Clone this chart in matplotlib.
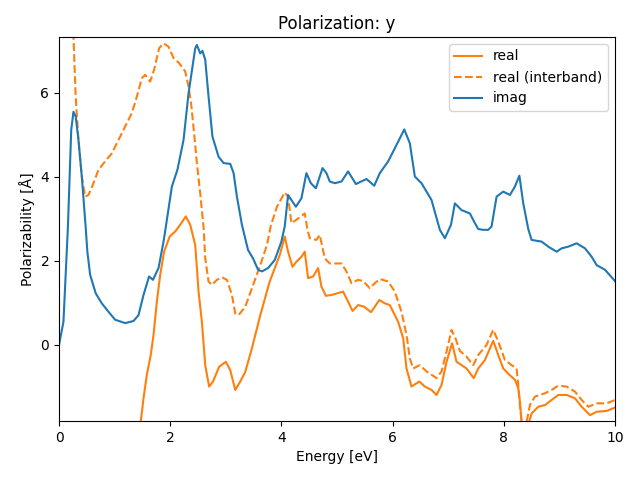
import numpy as np
import matplotlib
matplotlib.use("Agg")
import matplotlib.pyplot as plt

# imag part
e_imag = [0.0, 0.08, 0.16, 0.22, 0.26, 0.30, 0.35, 0.41, 0.48, 0.51, 0.56, 0.66, 0.77, 0.89,
          1.01, 1.19, 1.34, 1.43, 1.52, 1.62, 1.69, 1.79, 1.88, 1.92, 2.03, 2.13, 2.24, 2.33,
          2.45, 2.48, 2.54, 2.58, 2.63, 2.69, 2.76, 2.87, 2.96, 3.08, 3.14, 3.20, 3.29, 3.40,
          3.49, 3.58, 3.65, 3.76, 3.88, 4.00, 4.06, 4.12, 4.18, 4.26, 4.36, 4.45, 4.53, 4.62,
          4.74, 4.81, 4.87, 4.96, 5.08, 5.20, 5.34, 5.53, 5.67, 5.77, 5.92, 6.07, 6.21, 6.31,
          6.40, 6.52, 6.70, 6.85, 6.94, 7.05, 7.12, 7.24, 7.39, 7.48, 7.54, 7.63, 7.72, 7.78,
          7.87, 7.99, 8.11, 8.20, 8.28, 8.35, 8.44, 8.50, 8.68, 8.80, 8.95, 9.04, 9.16, 9.31,
          9.46, 9.58, 9.67, 9.82, 10.0]
imag = [0.0, 0.55, 2.80, 5.12, 5.55, 5.44, 4.88, 4.01, 2.80, 2.22, 1.67, 1.23, 0.99, 0.79,
        0.60, 0.52, 0.57, 0.71, 1.19, 1.63, 1.55, 1.83, 2.46, 2.80, 3.77, 4.17, 4.88, 5.99,
        7.06, 7.14, 6.94, 7.00, 6.79, 5.91, 4.96, 4.48, 4.33, 4.31, 4.09, 3.53, 2.86, 2.26,
        2.06, 1.79, 1.75, 1.83, 2.02, 2.46, 2.82, 3.57, 3.45, 3.29, 3.49, 4.09, 3.85, 3.73,
        4.21, 4.09, 3.89, 3.85, 3.89, 4.13, 3.83, 3.95, 3.79, 4.09, 4.37, 4.76, 5.13, 4.80,
        4.01, 3.85, 3.45, 2.74, 2.54, 2.86, 3.37, 3.21, 3.13, 2.90, 2.76, 2.74, 2.74, 2.82,
        3.53, 3.65, 3.57, 3.77, 4.03, 3.37, 2.76, 2.50, 2.46, 2.34, 2.22, 2.30, 2.34, 2.42,
        2.30, 2.10, 1.90, 1.79, 1.52]

# real part (total)
e_real = [1.30, 1.47, 1.52, 1.58, 1.65, 1.70, 1.76, 1.82, 1.89, 1.99, 2.09, 2.19, 2.28, 2.36,
          2.45, 2.51, 2.57, 2.63, 2.70, 2.77, 2.88, 3.00, 3.08, 3.17, 3.26, 3.35, 3.47, 3.62,
          3.79, 3.97, 4.06, 4.12, 4.20, 4.27, 4.36, 4.42, 4.48, 4.57, 4.66, 4.72, 4.80, 4.90,
          5.11, 5.20, 5.28, 5.38, 5.49, 5.61, 5.68, 5.76, 5.86, 5.95, 6.10, 6.19, 6.25, 6.34,
          6.48, 6.58, 6.70, 6.79, 6.88, 6.97, 7.07, 7.15, 7.24, 7.33, 7.46, 7.54, 7.66, 7.81,
          7.90, 7.99, 8.10, 8.20, 8.26, 8.29, 8.32, 8.37, 8.44, 8.50, 8.62, 8.74, 8.86, 8.98,
          9.13, 9.28, 9.40, 9.55, 9.67, 9.85, 10.0]
real = [-4.0, -1.83, -1.27, -0.71, -0.24, 0.24, 1.03, 1.67, 2.22, 2.58, 2.70, 2.88, 3.06, 2.86,
        2.38, 1.27, 0.55, -0.48, -0.99, -0.87, -0.52, -0.40, -0.60, -1.07, -0.87, -0.64, -0.08, 0.71,
        1.51, 2.14, 2.58, 2.22, 1.86, 1.98, 2.10, 2.22, 1.59, 1.63, 1.83, 1.39, 1.17, 1.19,
        1.27, 1.03, 0.81, 0.95, 0.91, 0.78, 0.91, 1.07, 0.99, 0.95, 0.55, 0.16, -0.56, -0.99,
        -0.87, -0.99, -1.07, -1.19, -0.95, -0.40, 0.04, -0.40, -0.48, -0.56, -0.79, -0.56, -0.36, 0.10,
        -0.24, -0.56, -0.71, -0.83, -1.03, -1.35, -1.83, -2.20, -1.90, -1.63, -1.47, -1.43, -1.31, -1.19,
        -1.19, -1.27, -1.47, -1.67, -1.59, -1.57, -1.49]

# real part (interband)
e_inter = [0.15, 0.26, 0.30, 0.35, 0.41, 0.47, 0.53, 0.62, 0.71, 0.83, 0.95, 1.07, 1.19, 1.31,
           1.40, 1.49, 1.55, 1.64, 1.71, 1.80, 1.88, 1.97, 2.06, 2.16, 2.27, 2.33, 2.38, 2.44,
           2.48, 2.54, 2.60, 2.63, 2.69, 2.75, 2.84, 2.93, 3.02, 3.11, 3.17, 3.23, 3.35, 3.47,
           3.62, 3.74, 3.81, 3.92, 4.06, 4.12, 4.18, 4.27, 4.42, 4.47, 4.51, 4.63, 4.69, 4.78,
           4.87, 4.92, 5.08, 5.17, 5.26, 5.38, 5.47, 5.59, 5.68, 5.77, 5.92, 6.04, 6.16, 6.25,
           6.31, 6.37, 6.49, 6.61, 6.79, 6.88, 6.97, 7.06, 7.13, 7.21, 7.33, 7.45, 7.54, 7.69,
           7.81, 7.90, 8.02, 8.14, 8.23, 8.26, 8.29, 8.32, 8.37, 8.41, 8.47, 8.56, 8.74, 8.86,
           8.98, 9.13, 9.28, 9.40, 9.52, 9.67, 9.85, 10.0]
real_inter = [10.0, 7.34, 5.91, 4.88, 4.01, 3.53, 3.57, 3.85, 4.17, 4.37, 4.56, 4.88, 5.20, 5.52,
              5.91, 6.35, 6.43, 6.27, 6.55, 7.06, 7.18, 7.10, 6.83, 6.71, 6.51, 6.15, 5.70, 4.90,
              4.33, 3.61, 2.80, 2.06, 1.51, 1.43, 1.55, 1.61, 1.55, 1.19, 0.75, 0.71, 0.91, 1.35,
              1.90, 2.38, 2.84, 3.29, 3.63, 3.53, 2.90, 2.98, 3.13, 2.74, 2.54, 2.50, 2.62, 2.06,
              1.94, 1.94, 1.94, 1.75, 1.47, 1.55, 1.52, 1.35, 1.47, 1.57, 1.51, 1.27, 0.79, 0.24,
              -0.32, -0.56, -0.48, -0.63, -0.79, -0.63, -0.16, 0.36, 0.16, -0.14, -0.28, -0.48, -0.24, 0.0,
              0.36, 0.08, -0.36, -0.48, -0.56, -0.95, -1.43, -1.83, -2.10, -1.83, -1.43, -1.23, -1.15, -1.07,
              -0.97, -0.99, -1.11, -1.31, -1.47, -1.39, -1.39, -1.31]

fig, ax = plt.subplots(figsize=(6.4, 4.8), dpi=100)
ax.plot(e_real, real, color='C1', label='real')
ax.plot(e_inter, real_inter, color='C1', linestyle='--', label='real (interband)')
ax.plot(e_imag, imag, color='C0', label='imag')
ax.set_xlim(0, 10)
ax.set_ylim(-1.81, 7.33)
ax.set_xlabel("Energy [eV]")
ax.set_ylabel("Polarizability [Å]")
ax.set_title("Polarization: y")
ax.legend(loc='upper right')
fig.subplots_adjust(left=59/640, right=615/640, top=1-37/480, bottom=1-421/480)
fig.savefig("out.png")
